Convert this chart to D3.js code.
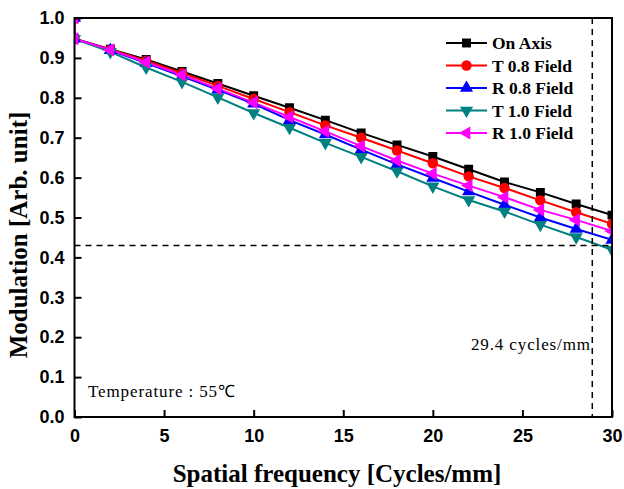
<!DOCTYPE html>
<html>
<head>
<meta charset="utf-8">
<script src="https://cdn.jsdelivr.net/npm/d3@7"></script>
<style>
  body { margin: 0; background: #fff; }
  svg { display: block; }
</style>
</head>
<body>
<svg id="chart"></svg>
<script>
// chart data
var frequency = [0, 0, 2, 4, 6, 8, 10, 12, 14, 16, 18, 20, 22, 24, 26, 28, 30];
var onAxis = [1.0, 0.948, 0.922, 0.896, 0.866, 0.836, 0.805, 0.775, 0.744, 0.712, 0.682, 0.653, 0.621, 0.589, 0.563, 0.534, 0.506];
var t08Field = [1.0, 0.948, 0.921, 0.893, 0.862, 0.830, 0.797, 0.764, 0.731, 0.700, 0.668, 0.636, 0.603, 0.574, 0.543, 0.513, 0.484];
var r08Field = [1.0, 0.948, 0.919, 0.887, 0.854, 0.820, 0.785, 0.744, 0.708, 0.670, 0.633, 0.599, 0.565, 0.532, 0.500, 0.471, 0.444];
var t10Field = [1.0, 0.948, 0.915, 0.876, 0.840, 0.801, 0.762, 0.725, 0.687, 0.652, 0.616, 0.578, 0.544, 0.515, 0.482, 0.451, 0.419];
var r10Field = [1.0, 0.948, 0.920, 0.889, 0.857, 0.823, 0.788, 0.752, 0.716, 0.679, 0.643, 0.610, 0.580, 0.551, 0.519, 0.494, 0.466];
var seriesNames = ["On Axis", "T 0.8 Field", "R 0.8 Field", "T 1.0 Field", "R 1.0 Field"];
var xTicks = [0, 5, 10, 15, 20, 25, 30];
var yTicks = [0.0, 0.1, 0.2, 0.3, 0.4, 0.5, 0.6, 0.7, 0.8, 0.9, 1.0];
var cutoffModulation = 0.43;
var cutoffFrequency = 28.9;
var cutoffLabel = "29.4 cycles/mm";
var tempLabel = "Temperature : 55\u2103";

var width = 624;
var height = 489;
var margin = { top: 18, right: 12, bottom: 72, left: 74.5 };
var plotW = width - margin.left - margin.right;
var plotH = height - margin.top - margin.bottom;

var svg = d3.select("#chart").attr("width", width).attr("height", height);

var x = d3.scaleLinear().domain([0, 30]).range([0, plotW]);
var y = d3.scaleLinear().domain([0, 1]).range([plotH, 0]);

var styles = [
  { color: "#000000", symbol: d3.symbolSquare, size: 80, rot: 0 },
  { color: "#ff0000", symbol: d3.symbolCircle, size: 85, rot: 0 },
  { color: "#0000ff", symbol: d3.symbolTriangle, size: 75, rot: 0 },
  { color: "#008080", symbol: d3.symbolTriangle, size: 75, rot: 180 },
  { color: "#ff00ff", symbol: d3.symbolTriangle, size: 75, rot: -90 }
];
var allSeries = [onAxis, t08Field, r08Field, t10Field, r10Field];
var serif = "Liberation Serif, Times New Roman, serif";

var g = svg.append("g").attr("transform", "translate(" + margin.left + "," + margin.top + ")");

g.append("clipPath").attr("id", "plot-clip")
  .append("rect").attr("width", plotW).attr("height", plotH);

var plot = g.append("g").attr("clip-path", "url(#plot-clip)");

var line = d3.line()
  .x(function (d, i) { return x(frequency[i]); })
  .y(function (d) { return y(d); });

// draw lines and markers
allSeries.forEach(function (vals, s) {
  plot.append("path")
    .datum(vals)
    .attr("d", line)
    .attr("fill", "none")
    .attr("stroke", styles[s].color)
    .attr("stroke-width", 2);
});
allSeries.forEach(function (vals, s) {
  plot.selectAll(".m" + s)
    .data(vals)
    .enter()
    .append("path")
    .attr("d", d3.symbol().type(styles[s].symbol).size(styles[s].size))
    .attr("transform", function (d, i) {
      return "translate(" + x(frequency[i]) + "," + y(d) + ") rotate(" + styles[s].rot + ")";
    })
    .attr("fill", styles[s].color);
});

// dashed cut-off lines
g.append("line")
  .attr("x1", 0).attr("x2", plotW)
  .attr("y1", y(cutoffModulation)).attr("y2", y(cutoffModulation))
  .attr("stroke", "#000").attr("stroke-width", 1.5).attr("stroke-dasharray", "6,5");
g.append("line")
  .attr("x1", x(cutoffFrequency)).attr("x2", x(cutoffFrequency))
  .attr("y1", 0).attr("y2", plotH)
  .attr("stroke", "#000").attr("stroke-width", 1.5).attr("stroke-dasharray", "6,5");

// axes
var xAxis = d3.axisBottom(x).tickValues(xTicks).tickSizeInner(-7).tickSizeOuter(0).tickPadding(12);
var yAxis = d3.axisLeft(y).tickValues(yTicks).tickSizeInner(-7).tickSizeOuter(0).tickPadding(10)
  .tickFormat(d3.format(".1f"));

var gx = g.append("g").attr("transform", "translate(0," + plotH + ")").call(xAxis);
var gy = g.append("g").call(yAxis);
[gx, gy].forEach(function (a) {
  a.select(".domain").remove();
  a.selectAll(".tick line").attr("stroke", "#000").attr("stroke-width", 2);
  a.selectAll(".tick text")
    .attr("font-family", "Liberation Sans, Arial, sans-serif")
    .attr("font-weight", "bold")
    .attr("font-size", 18)
    .attr("fill", "#000");
});

// frame
g.append("rect")
  .attr("width", plotW).attr("height", plotH)
  .attr("fill", "none").attr("stroke", "#000").attr("stroke-width", 2);

// axis titles
svg.append("text")
  .attr("x", 337)
  .attr("y", 482)
  .attr("text-anchor", "middle")
  .attr("font-family", serif)
  .attr("font-weight", "bold")
  .attr("font-size", 25)
  .text("Spatial frequency [Cycles/mm]");

svg.append("text")
  .attr("transform", "translate(27,235) rotate(-90)")
  .attr("text-anchor", "middle")
  .attr("font-family", serif)
  .attr("font-weight", "bold")
  .attr("font-size", 25)
  .text("Modulation [Arb. unit]");

// annotations
svg.append("text")
  .attr("x", 471)
  .attr("y", 350)
  .attr("font-family", serif)
  .attr("font-size", 17)
  .attr("textLength", 119)
  .attr("lengthAdjust", "spacing")
  .text(cutoffLabel);

svg.append("text")
  .attr("x", 88)
  .attr("y", 397)
  .attr("font-family", serif)
  .attr("font-size", 17)
  .attr("textLength", 147)
  .attr("lengthAdjust", "spacing")
  .text(tempLabel);

// legend
var legend = svg.append("g").attr("transform", "translate(446,43)");
seriesNames.forEach(function (name, s) {
  var row = legend.append("g").attr("transform", "translate(0," + (s * 22.5) + ")");
  row.append("line").attr("x1", 0).attr("x2", 41).attr("y1", 0).attr("y2", 0)
    .attr("stroke", styles[s].color).attr("stroke-width", 2);
  row.append("path")
    .attr("d", d3.symbol().type(styles[s].symbol).size(styles[s].size))
    .attr("transform", "translate(20.5,0) rotate(" + styles[s].rot + ")")
    .attr("fill", styles[s].color);
  row.append("text")
    .attr("x", 46).attr("y", 6)
    .attr("font-family", serif)
    .attr("font-weight", "bold")
    .attr("font-size", 17.5)
    .text(name);
});
</script>
</body>
</html>
